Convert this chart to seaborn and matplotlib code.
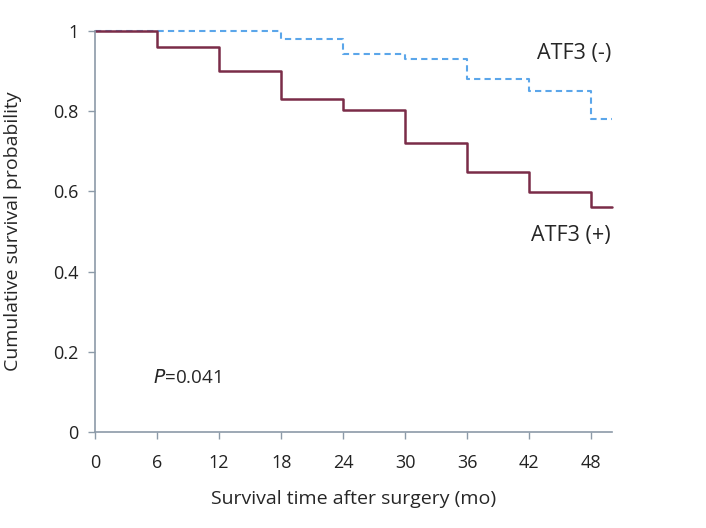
import matplotlib
matplotlib.use("Agg")
import matplotlib.pyplot as plt
import seaborn as sns
import pandas as pd

# survival curves
months = [0, 6, 12, 18, 24, 30, 36, 42, 48, 50]
atf3_neg = [1.0, 1.0, 1.0, 0.98, 0.942, 0.930, 0.880, 0.851, 0.78, 0.78]
atf3_pos = [1.0, 0.96, 0.90, 0.83, 0.802, 0.72, 0.649, 0.599, 0.56, 0.56]
x_ticks = [0, 6, 12, 18, 24, 30, 36, 42, 48]
y_ticks = [0, 0.2, 0.4, 0.6, 0.8, 1]
y_tick_labels = ['0', '0.2', '0.4', '0.6', '0.8', '1']

sns.set_style('white')
plt.rcParams['font.family'] = ['Open Sans', 'DejaVu Sans']

df = pd.DataFrame({'Month': months, 'neg': atf3_neg, 'pos': atf3_pos})

fig = plt.figure(figsize=(7.06, 5.28), dpi=100)
ax = fig.add_axes([0.1346, 0.1818, 0.7323, 0.7595])

sns.lineplot(data=df, x='Month', y='neg', ax=ax, drawstyle='steps-post',
             color='#5ba6ea', linestyle=(0, (3, 2)), linewidth=1.5, clip_on=False)
sns.lineplot(data=df, x='Month', y='pos', ax=ax, drawstyle='steps-post',
             color='#7a2c48', linewidth=1.8, clip_on=False)

ax.set_xlim(0, 50)
ax.set_ylim(0, 1)
ax.set_xticks(x_ticks)
ax.set_yticks(y_ticks)
ax.set_yticklabels(y_tick_labels)
ax.tick_params(axis='both', labelsize=13, colors='#222222', length=5,
               width=1, direction='out', bottom=True, left=True, pad=7)
ax.tick_params(axis='x', pad=11)
ax.tick_params(axis='both', color='#8c9aa8')

for side in ['top', 'right']:
    ax.spines[side].set_visible(False)
for side in ['left', 'bottom']:
    ax.spines[side].set_color('#8c9aa8')
    ax.spines[side].set_linewidth(1.2)

ax.set_xlabel('Survival time after surgery (mo)', fontsize=14, labelpad=13)
ax.set_ylabel('Cumulative survival probability', fontsize=14, labelpad=22)

# annotations
ax.text(49.9, 0.945, 'ATF3 (-)', fontsize=15.5, ha='right', va='center')
ax.text(49.9, 0.49, 'ATF3 (+)', fontsize=15.5, ha='right', va='center')
ax.text(5.6, 0.135, '$P$=0.041', fontsize=13.5, ha='left', va='center')

fig.savefig('out.png', dpi=100)
